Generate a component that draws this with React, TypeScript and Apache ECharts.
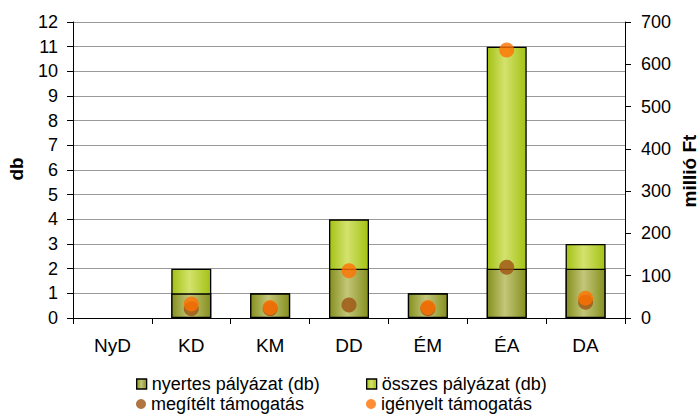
import React, { useEffect, useRef } from "react";
import * as echarts from "echarts";

const categories = ["NyD", "KD", "KM", "DD", "ÉM", "ÉA", "DA"];
const nyertes = [0, 1, 1, 2, 1, 2, 2];
const osszes = [0, 2, 1, 4, 1, 11, 3];
const megitelt: (number | null)[] = [null, 22, 22, 31, 22, 120, 37];
const igenyelt: (number | null)[] = [null, 33, 25, 112, 25, 634, 47];
const leftTicks = { min: 0, max: 12, interval: 1 };
const rightTicks = { min: 0, max: 700, interval: 100 };

const FONT = "Liberation Sans, Arial, sans-serif";

const grad = (edge: string, mid: string) =>
  new echarts.graphic.LinearGradient(0, 0, 1, 0, [
    { offset: 0, color: edge },
    { offset: 0.45, color: mid },
    { offset: 1, color: edge },
  ]);

// zero-height bars are not drawn in the original
const hideZero = (arr: number[]) => arr.map((v) => (v === 0 ? "-" : v));

export default function App() {
  const ref = useRef<HTMLDivElement>(null);
  useEffect(() => {
    if (!ref.current) return;
    const chart = echarts.init(ref.current, undefined, { renderer: "svg" });
    const nyStyle = { color: grad("#85901f", "#c4c679"), borderColor: "#000", borderWidth: 1.3 };
    const osStyle = { color: grad("#a4c214", "#d3e26e"), borderColor: "#000", borderWidth: 1.3 };
    const legendBase = {
      orient: "horizontal" as const,
      padding: 0,
      itemWidth: 10,
      itemHeight: 10,
      itemGap: 4,
      textStyle: { fontFamily: FONT, fontSize: 18, color: "#000", lineHeight: 18 },
    };
    chart.setOption({
      animation: false,
      backgroundColor: "#fff",
      grid: { left: 73, right: 74, top: 22, bottom: 98, containLabel: false },
      legend: [
        { ...legendBase, left: 136, top: 375, data: [{ name: "nyertes pályázat (db)", icon: "rect", itemStyle: nyStyle }] },
        { ...legendBase, left: 366, top: 375, data: [{ name: "összes pályázat (db)", icon: "rect", itemStyle: osStyle }] },
        { ...legendBase, left: 136, top: 395, data: [{ name: "megítélt támogatás", icon: "circle" }] },
        { ...legendBase, left: 366, top: 395, data: [{ name: "igényelt támogatás", icon: "circle" }] },
      ],
      xAxis: {
        type: "category",
        data: categories,
        axisLine: { lineStyle: { color: "#000", width: 1 } },
        axisTick: { show: true, length: 6, lineStyle: { color: "#000" } },
        axisLabel: { fontFamily: FONT, fontSize: 19, color: "#000", margin: 18 },
        splitLine: { show: false },
      },
      yAxis: [
        {
          type: "value",
          ...leftTicks,
          position: "left",
          axisLine: { show: true, lineStyle: { color: "#000" } },
          axisTick: { show: true, length: 6, lineStyle: { color: "#000" } },
          axisLabel: { fontFamily: FONT, fontSize: 18, color: "#000", margin: 15 },
          splitLine: { show: true, lineStyle: { color: "#9a9a9a", width: 1 } },
        },
        {
          type: "value",
          ...rightTicks,
          position: "right",
          axisLine: { show: true, lineStyle: { color: "#000" } },
          axisTick: { show: true, length: 6, lineStyle: { color: "#000" } },
          axisLabel: { fontFamily: FONT, fontSize: 18, color: "#000", margin: 16 },
          splitLine: { show: false },
        },
      ],
      graphic: [
        {
          type: "text",
          x: 16,
          y: 169,
          rotation: Math.PI / 2,
          style: { text: "db", align: "center", verticalAlign: "middle", font: `bold 19px ${FONT}`, fill: "#000" },
        },
        {
          type: "text",
          x: 689,
          y: 171,
          rotation: Math.PI / 2,
          style: { text: "millió Ft", align: "center", verticalAlign: "middle", font: `bold 19px ${FONT}`, fill: "#000" },
        },
      ],
      series: [
        {
          name: "összes pályázat (db)",
          type: "bar",
          data: hideZero(osszes),
          barWidth: 40,
          barGap: "-100%",
          itemStyle: osStyle,
          z: 2,
        },
        {
          name: "nyertes pályázat (db)",
          type: "bar",
          data: hideZero(nyertes),
          barWidth: 40,
          barGap: "-100%",
          itemStyle: nyStyle,
          z: 3,
        },
        {
          name: "megítélt támogatás",
          type: "scatter",
          yAxisIndex: 1,
          data: megitelt,
          symbolSize: 15,
          itemStyle: { color: "#9e5312" },
          z: 4,
        },
        {
          name: "igényelt támogatás",
          type: "scatter",
          yAxisIndex: 1,
          data: igenyelt,
          symbolSize: 15,
          itemStyle: { color: "#ff7100" },
          z: 5,
        },
      ],
    });
    return () => chart.dispose();
  }, []);
  return <div ref={ref} style={{ position: "absolute", left: 0, top: 0, width: 699, height: 416 }} />;
}
